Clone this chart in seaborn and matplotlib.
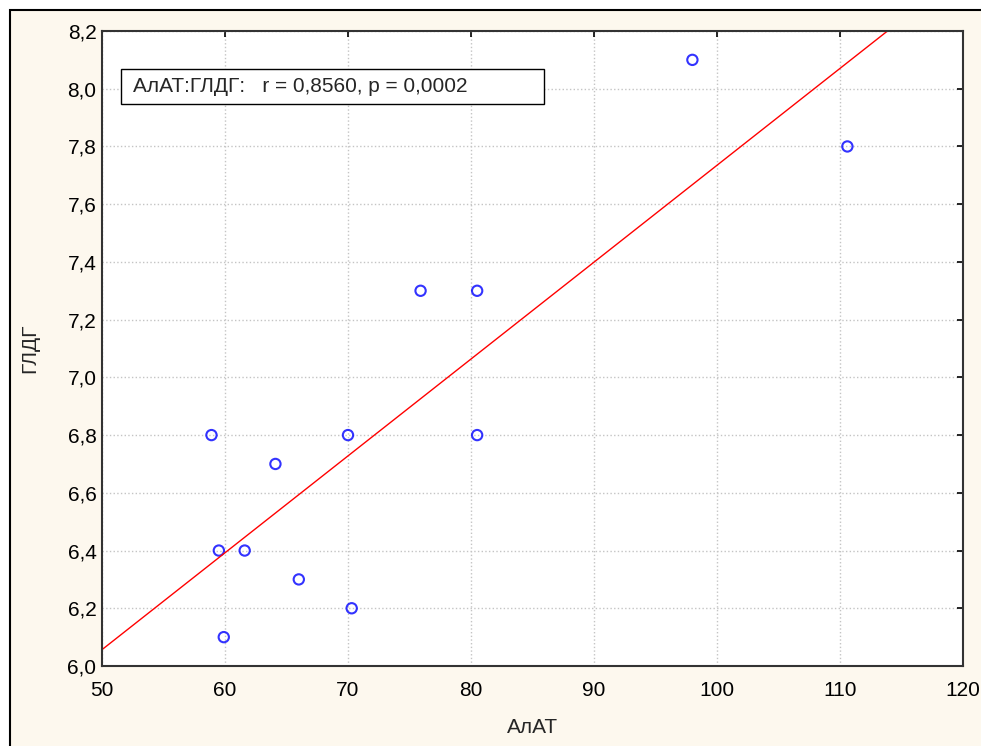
import numpy as np
import pandas as pd
import matplotlib
matplotlib.use("Agg")
import matplotlib.pyplot as plt
from matplotlib.patches import Rectangle
from matplotlib.ticker import FuncFormatter
import seaborn as sns

# values
alat = [58.9, 59.5, 59.9, 61.6, 64.1, 66.0, 70.0, 70.3, 75.9, 80.5, 80.5, 98.0, 110.6]
gldg = [6.8, 6.4, 6.1, 6.4, 6.7, 6.3, 6.8, 6.2, 7.3, 7.3, 6.8, 8.1, 7.8]
x_ticks = [50, 60, 70, 80, 90, 100, 110, 120]
y_ticks = [6.0, 6.2, 6.4, 6.6, 6.8, 7.0, 7.2, 7.4, 7.6, 7.8, 8.0, 8.2]
stat_text = "АлАТ:ГЛДГ:   r = 0,8560, p = 0,0002"

df = pd.DataFrame({"АлАТ": alat, "ГЛДГ": gldg})

sns.set_style("white")
plt.rcParams['font.family'] = ['Liberation Sans', 'DejaVu Sans']

fig = plt.figure(figsize=(9.81, 7.46), dpi=100, facecolor="white")
# cream panel with the black frame at top and left
fig.patches.append(Rectangle((10/981, -0.1), 1.2, 0.1 + 736/746, transform=fig.transFigure,
                             facecolor="#fdf8ee", edgecolor="black", linewidth=1.5, zorder=-10))

ax = fig.add_axes([102/981, 80/746, 861/981, 635/746])
ax.set_facecolor("white")
ax.set_xlim(50, 120)
ax.set_ylim(6.0, 8.2)

sns.regplot(data=df, x="АлАТ", y="ГЛДГ", ax=ax, ci=None, truncate=False,
            scatter_kws=dict(s=55, facecolors="none", edgecolors="#0000ff", linewidths=1.5),
            line_kws=dict(color="#ff0000", linewidth=1.0))

ax.set_xlim(50, 120)
ax.set_ylim(6.0, 8.2)
ax.set_xticks(x_ticks)
ax.set_yticks(y_ticks)
ax.xaxis.set_major_formatter(FuncFormatter(lambda v, p: f"{v:.0f}"))
ax.yaxis.set_major_formatter(FuncFormatter(lambda v, p: f"{v:.1f}".replace(".", ",")))
ax.grid(True, color="#c4c4c4", linestyle=":", linewidth=1.0)
ax.set_axisbelow(True)
ax.tick_params(direction="in", top=True, right=True, length=4, width=1.2,
               labelsize=15, colors="black")
ax.tick_params(axis="y", pad=4)
ax.tick_params(axis="x", pad=11)
for s in ax.spines.values():
    s.set_color("#333333")
    s.set_linewidth(1.5)

ax.set_xlabel("АлАТ", fontsize=15, labelpad=13)
ax.set_ylabel("ГЛДГ", fontsize=15, labelpad=20)

# stat box
ax.add_patch(Rectangle((19/861, 562/635), 423/861, 35/635, transform=ax.transAxes,
                       facecolor="white", edgecolor="black", linewidth=1.0, zorder=5))
ax.text(31/861, 0.912, stat_text, transform=ax.transAxes, fontsize=15, va="center", ha="left",
        zorder=6)

fig.savefig("out.png", dpi=100, facecolor=fig.get_facecolor())
